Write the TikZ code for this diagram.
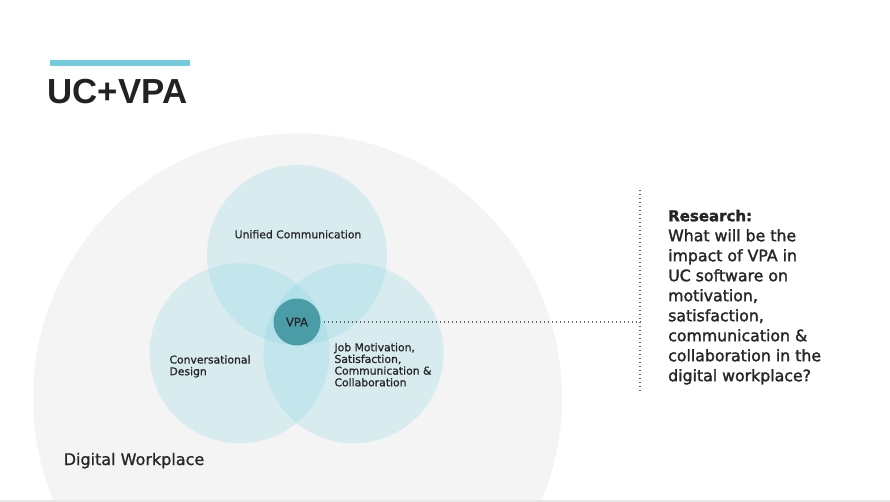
\documentclass[tikz,border=0pt]{standalone}
\usepackage{fontspec}
\setmainfont{DejaVu Sans}
\newfontfamily\titlefont{Liberation Sans}
\newfontfamily\medfont{DejaVu Sans}[FakeBold=1.0]
\newfontfamily\semifont{DejaVu Sans}[FakeBold=1.7]
\definecolor{workbg}{HTML}{F4F4F4}
\definecolor{venncol}{HTML}{79D0E2}
\definecolor{vpacol}{HTML}{4A9CA7}
\definecolor{barcol}{HTML}{74CDDE}
\definecolor{txt}{HTML}{262626}
\definecolor{titlecol}{HTML}{222222}
\definecolor{dotcol}{HTML}{666666}
\definecolor{bandcol}{HTML}{E8E8E8}
\tikzset{
  venn/.style={circle, inner sep=0pt, outer sep=0pt, minimum size=180pt, fill=venncol, fill opacity=0.22},
  lbl/.style={inner sep=0pt, text=txt, font=\medfont\fontsize{10.8}{11.7}\selectfont, align=left},
  dots/.style={draw=dotcol, line width=1.1pt, dash pattern=on 1pt off 3pt},
}
\begin{document}
\begin{tikzpicture}[x=1pt,y=-1pt]
\useasboundingbox (0,0) rectangle (890,502);
\fill[white] (0,0) rectangle (890,502);
\begin{scope}
\clip (0,0) rectangle (890,502);
\node[circle, inner sep=0pt, outer sep=0pt, minimum size=529pt, fill=workbg] (dw) at (297.5,398) {};
\end{scope}
\fill[bandcol] (0,499.5) rectangle (890,502);
% title
\fill[barcol] (50,60) rectangle (190,66);
\node[anchor=base west, inner sep=0pt, text=titlecol, font=\titlefont\fontsize{34.8}{38}\selectfont\bfseries] (title) at (47.5,103.3) {UC+VPA};
% venn
\node[venn] (uc) at (297,255) {};
\node[venn] (cd) at (239.5,353.3) {};
\node[venn] (jm) at (353.5,353.3) {};
\node[circle, inner sep=0pt, outer sep=0pt, minimum size=47pt, fill=vpacol, text=txt, font=\medfont\fontsize{11.5}{12}\selectfont] (vpa) at (297,322) {VPA};
% labels
\node[lbl, anchor=base] (uclbl) at (298,238.3) {Unified Communication};
\node[lbl, anchor=north west] (cdlbl) at (169.3,355.1) {Conversational\\Design};
\node[lbl, anchor=north west] (jmlbl) at (334.3,342.8) {Job Motivation,\\Satisfaction,\\Communication \&\\Collaboration};
\node[anchor=base west, inner sep=0pt, text=txt, font=\medfont\fontsize{16}{19}\selectfont] (dwlbl) at (63.5,465) {Digital Workplace};
% connectors
\coordinate (hj) at (640,322);
\coordinate (vt) at (640,190);
\coordinate (vb) at (640,392);
\draw[dots, shorten <=3pt] (vpa.east) -- (hj);
\draw[dots] (vt) -- (vb);
% research
\node[anchor=north west, inner sep=0pt, align=left, text=txt, font=\semifont\fontsize{15.75}{20}\selectfont] (rq) at (668,209.6) {{\fontsize{15}{20}\selectfont\bfseries Research:}\\What will be the\\impact of VPA in\\UC software on\\motivation,\\satisfaction,\\communication \&\\collaboration in the\\digital workplace?};
\end{tikzpicture}
\end{document}
